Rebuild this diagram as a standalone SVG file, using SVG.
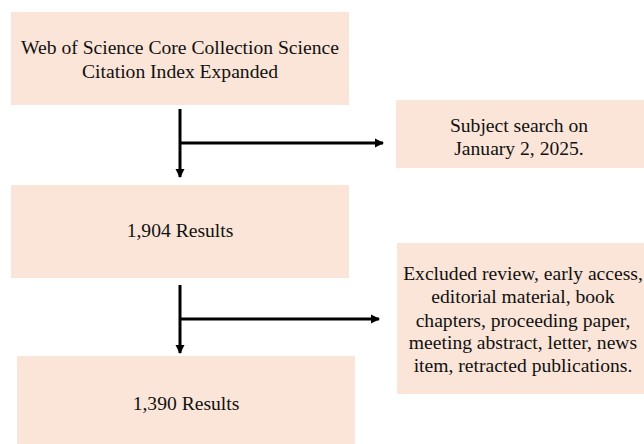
<svg xmlns="http://www.w3.org/2000/svg" width="644" height="444" viewBox="0 0 644 444">
<defs>
<style>
.box{fill:#FAE5D8;}
.t{font-family:"Liberation Serif","Times New Roman",serif;font-size:19.6px;fill:#111;text-anchor:middle;}
.ln{stroke:#000;stroke-width:3;fill:none;}
</style>
<marker id="ah" markerWidth="10" markerHeight="10" refX="8" refY="5" orient="auto" markerUnits="userSpaceOnUse">
<path d="M0,0.5 L9,5 L0,9.5 Z" fill="#000"/>
</marker>
</defs>
<rect width="644" height="444" fill="#fff"/>
<g id="n1">
<rect class="box" x="11" y="12" width="338" height="93"/>
<text class="t" x="180" y="54">Web of Science Core Collection Science</text>
<text class="t" x="180" y="78">Citation Index Expanded</text>
</g>
<g id="n2">
<rect class="box" x="396" y="100" width="248" height="68"/>
<text class="t" x="519" y="132">Subject search on</text>
<text class="t" x="519" y="155">January 2, 2025.</text>
</g>
<g id="n3">
<rect class="box" x="11" y="185" width="338" height="93"/>
<text class="t" x="180" y="237">1,904 Results</text>
</g>
<g id="n4">
<rect class="box" x="17" y="356" width="338" height="88"/>
<text class="t" x="186" y="410">1,390 Results</text>
</g>
<g id="n5">
<rect class="box" x="397" y="243" width="247" height="151"/>
<text class="t" x="523" y="280">Excluded review, early access,</text>
<text class="t" x="523" y="303">editorial material, book</text>
<text class="t" x="523" y="327">chapters, proceeding paper,</text>
<text class="t" x="523" y="349">meeting abstract, letter, news</text>
<text class="t" x="523" y="372">item, retracted publications.</text>
</g>
<g id="connectors">
<line class="ln" x1="180" y1="109" x2="180" y2="177" marker-end="url(#ah)"/>
<line class="ln" x1="180" y1="143" x2="383" y2="143" marker-end="url(#ah)"/>
<line class="ln" x1="180" y1="285" x2="180" y2="353" marker-end="url(#ah)"/>
<line class="ln" x1="180" y1="319" x2="379" y2="319" marker-end="url(#ah)"/>
</g>
</svg>
